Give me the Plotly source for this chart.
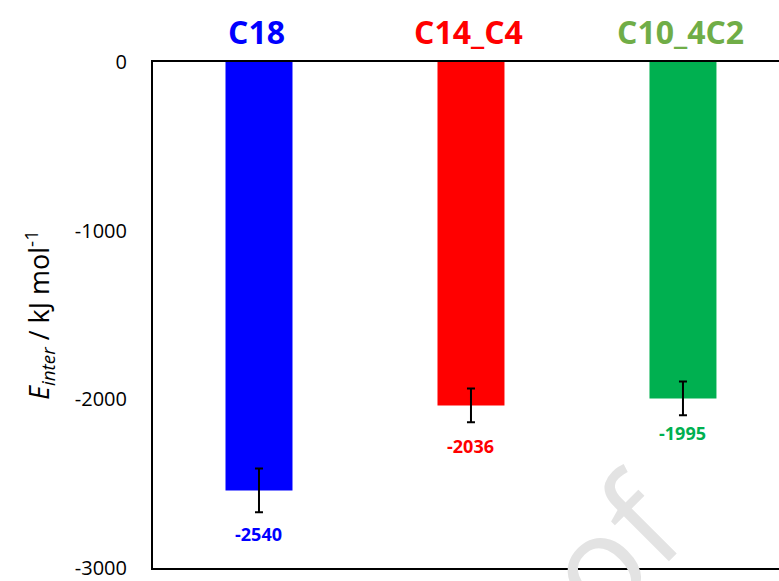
import plotly.graph_objects as go

# Interaction energies per system
systems = ["C18", "C14_C4", "C10_4C2"]
energies = [-2540, -2036, -1995]
errors = [130, 100, 100]

bar_colors = ["#0000FF", "#FF0000", "#00B050"]
name_colors = ["#0000FF", "#FF0000", "#70AD47"]
value_colors = ["#0000FF", "#FF0000", "#00B050"]
label_gaps = [22, 24, 18]  # px between error-bar end and value label centre

y_ticks = [0, -1000, -2000, -3000]

FONT = "Open Sans"

fig = go.Figure()
fig.add_trace(go.Bar(
    x=systems,
    y=energies,
    width=0.316,
    marker=dict(color=bar_colors, line=dict(width=0)),
    error_y=dict(type="data", array=errors, symmetric=True,
                 color="black", thickness=2, width=4),
    showlegend=False,
))

# System names above the plot
for s, c in zip(systems, name_colors):
    fig.add_annotation(x=s, y=1, xref="x", yref="paper", yanchor="bottom",
                       yshift=7, xshift=-2, showarrow=False, text=f"<b>{s}</b>",
                       font=dict(family=FONT, size=32, color=c))

# Value labels beneath the error bars
for s, v, e, c, g in zip(systems, energies, errors, value_colors, label_gaps):
    fig.add_annotation(x=s, y=v - e, xref="x", yref="y", yanchor="middle",
                       yshift=-g, showarrow=False, text=f"<b>{v}</b>",
                       font=dict(family=FONT, size=18, color=c))

# Faint watermark text
fig.add_annotation(x=0.733, y=0.045, xref="paper", yref="paper",
                   xanchor="center", yanchor="middle", showarrow=False,
                   text="of", textangle=-45,
                   font=dict(family=FONT, size=135, color="#E3E3E3"))

fig.update_layout(
    width=779, height=581,
    margin=dict(l=153, r=0, t=62, b=13),
    plot_bgcolor="white", paper_bgcolor="white",
    bargap=0.684,
    font=dict(family=FONT, color="black"),
)
fig.update_xaxes(
    range=[-0.5, 2.453],
    showticklabels=False, ticks="",
    showline=True, linecolor="black", linewidth=2, mirror=True,
    showgrid=False, zeroline=False,
)
fig.update_yaxes(
    range=[-3000, 0],
    tickvals=y_ticks, ticktext=[str(t) for t in y_ticks],
    tickfont=dict(family=FONT, size=20, color="black"),
    ticks="", ticklabelstandoff=20,
    showline=True, linecolor="black", linewidth=2, mirror=False,
    showgrid=False, zeroline=False,
    title=dict(text="<i>E</i><sub><i>inter</i></sub> / kJ mol<sup>-1</sup>",
               font=dict(family=FONT, size=27, color="black"), standoff=17),
)

fig.write_html("out.html")
